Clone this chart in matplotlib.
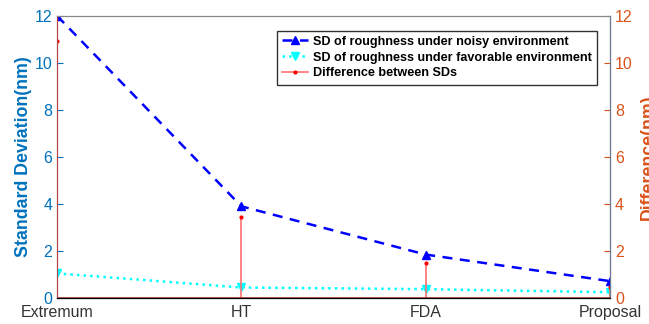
import numpy as np
import matplotlib.pyplot as plt

plt.rcParams['font.family'] = ['Liberation Sans', 'DejaVu Sans']

# roughness SD per method
methods = ['Extremum', 'HT', 'FDA', 'Proposal']
sd_noisy = [12.0, 3.9, 1.85, 0.72]
sd_favorable = [1.05, 0.45, 0.38, 0.25]
sd_diff = [10.95, 3.45, 1.5, 0.47]

blue_c = '#0072BD'
orange_c = '#D95319'

fig = plt.figure(figsize=(6.49, 3.24), dpi=100)
ax = fig.add_axes([0.088, 0.080, 0.852, 0.871])
x = np.arange(len(methods))

l1, = ax.plot(x, sd_noisy, '--', color='blue', lw=1.8, marker='^', ms=5.5,
              dashes=(4, 3), label='SD of roughness under noisy environment')
l2, = ax.plot(x, sd_favorable, ':', color='cyan', lw=1.8, marker='v', ms=5.5,
              label='SD of roughness under favorable environment')
ax.set_xlim(0, 3)
ax.set_ylim(0, 12)
ax.set_xticks(x)
ax.set_xticklabels(methods, fontsize=11.5, color='#333333')
ax.set_yticks(range(0, 13, 2))
ax.tick_params(axis='y', colors=blue_c, labelsize=11.5, direction='in', length=4)
ax.tick_params(axis='x', length=0, pad=5)
ax.spines['left'].set_color(blue_c)
ax.spines['top'].set_color('#888888')
ax.set_ylabel('Standard Deviation(nm)', color=blue_c, fontsize=12.8,
              fontweight='bold', labelpad=1.5)

ax2 = ax.twinx()
ml, sl, bl = ax2.stem(x, sd_diff, linefmt='-', markerfmt='.', basefmt='-')
plt.setp(sl, color='#FF7070', lw=1.2)
plt.setp(ml, color='red', ms=4)
plt.setp(bl, color='#A0402A', lw=1.2)
ax2.set_ylim(0, 12)
ax2.set_xlim(0, 3)
ax2.set_yticks(range(0, 13, 2))
ax2.tick_params(axis='y', colors=orange_c, labelsize=11.5, direction='in', length=4)
ax2.spines['right'].set_color('#6A7A90')
ax2.spines['left'].set_color('#C04040')
ax2.spines['top'].set_color('#888888')
ax2.set_ylabel('Difference(nm)', color=orange_c, fontsize=12.8,
               fontweight='bold', labelpad=5)

# legend proxy for the stems: line with the dot marker
diff_handle = plt.Line2D([], [], color='#FF7070', lw=1.2, marker='.',
                         markerfacecolor='red', markeredgecolor='red', ms=4)
ax2.legend([l1, l2, diff_handle],
           [l1.get_label(), l2.get_label(), 'Difference between SDs'],
           loc='upper left', bbox_to_anchor=(0.398, 0.947), fancybox=False,
           edgecolor='#333333', framealpha=1, handlelength=2, numpoints=1,
           prop={'weight': 'bold', 'size': 9.1}, borderpad=0.4,
           labelspacing=0.3, handletextpad=0.4, borderaxespad=0)

fig.savefig('out.png', dpi=100)
